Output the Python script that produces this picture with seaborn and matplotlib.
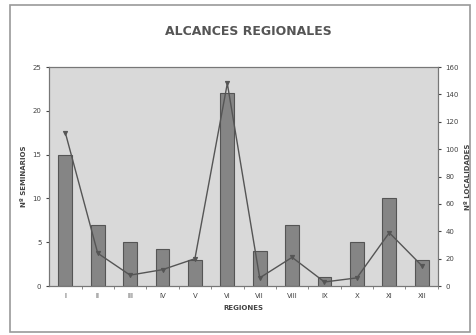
import numpy as np
import pandas as pd
import matplotlib
matplotlib.use("Agg")
from matplotlib import pyplot as plt
from matplotlib.patches import Rectangle
import seaborn as sns

# data
regiones = ["I", "II", "III", "IV", "V", "VI", "VII", "VIII", "IX", "X", "XI", "XII"]
seminarios = [15, 7, 5, 4.2, 3, 22, 4, 7, 1, 5, 10, 3]
localidades = [112, 24, 8, 12, 20, 148, 6, 21, 3, 6, 39, 15]

df = pd.DataFrame({"region": regiones, "seminarios": seminarios, "localidades": localidades})
df["pos"] = np.arange(len(df))

sns.set_style("white")
plt.rcParams["font.family"] = ["DejaVu Sans"]

fig = plt.figure(figsize=(4.77, 3.35), dpi=100)
fig.patches.append(Rectangle((0.02, 0.01), 0.965, 0.975, transform=fig.transFigure,
                             fill=False, edgecolor="#9a9a9a", linewidth=1.2))
ax = fig.add_axes([0.103, 0.146, 0.815, 0.654])
ax.set_facecolor("#d9d9d9")

sns.barplot(data=df, x="region", y="seminarios", color="#858585", width=0.43,
            edgecolor="#555555", linewidth=0.8, saturation=1, ax=ax)
ax.set_ylim(0, 25)
ax.set_yticks([0, 5, 10, 15, 20, 25])
ax.set_xlim(-0.5, len(regiones) - 0.5)
ax.set_xticks(np.arange(len(regiones)) + 0.5, minor=True)
ax.tick_params(axis="x", which="major", length=0, pad=5)
ax.tick_params(axis="x", which="minor", length=2, color="#777777", bottom=True)
ax.set_xlabel("REGIONES", fontsize=5, fontweight="bold", color="#444444")
ax.set_ylabel("Nº SEMINARIOS", fontsize=5, fontweight="bold", color="#444444")
ax.tick_params(labelsize=5, colors="#444444")
ax.tick_params(axis="y", length=2, left=True)

ax2 = ax.twinx()
sns.lineplot(data=df, x="pos", y="localidades", color="#555555", linewidth=1,
             marker="v", markersize=3, markeredgecolor="#555555", ax=ax2)
ax2.set_ylim(0, 160)
ax2.set_yticks(range(0, 161, 20))
ax2.set_ylabel("Nº LOCALIDADES", fontsize=5, fontweight="bold", color="#444444")
ax2.tick_params(labelsize=5, colors="#444444", length=2)
ax2.set_xlim(-0.5, len(regiones) - 0.5)

for a in (ax, ax2):
    for s in a.spines.values():
        s.set_color("#777777")
        s.set_linewidth(0.8)

fig.text(0.52, 0.905, "ALCANCES REGIONALES", ha="center", va="center",
         fontsize=9, fontweight="bold", color="#555555")

fig.savefig("out.png", dpi=100)
